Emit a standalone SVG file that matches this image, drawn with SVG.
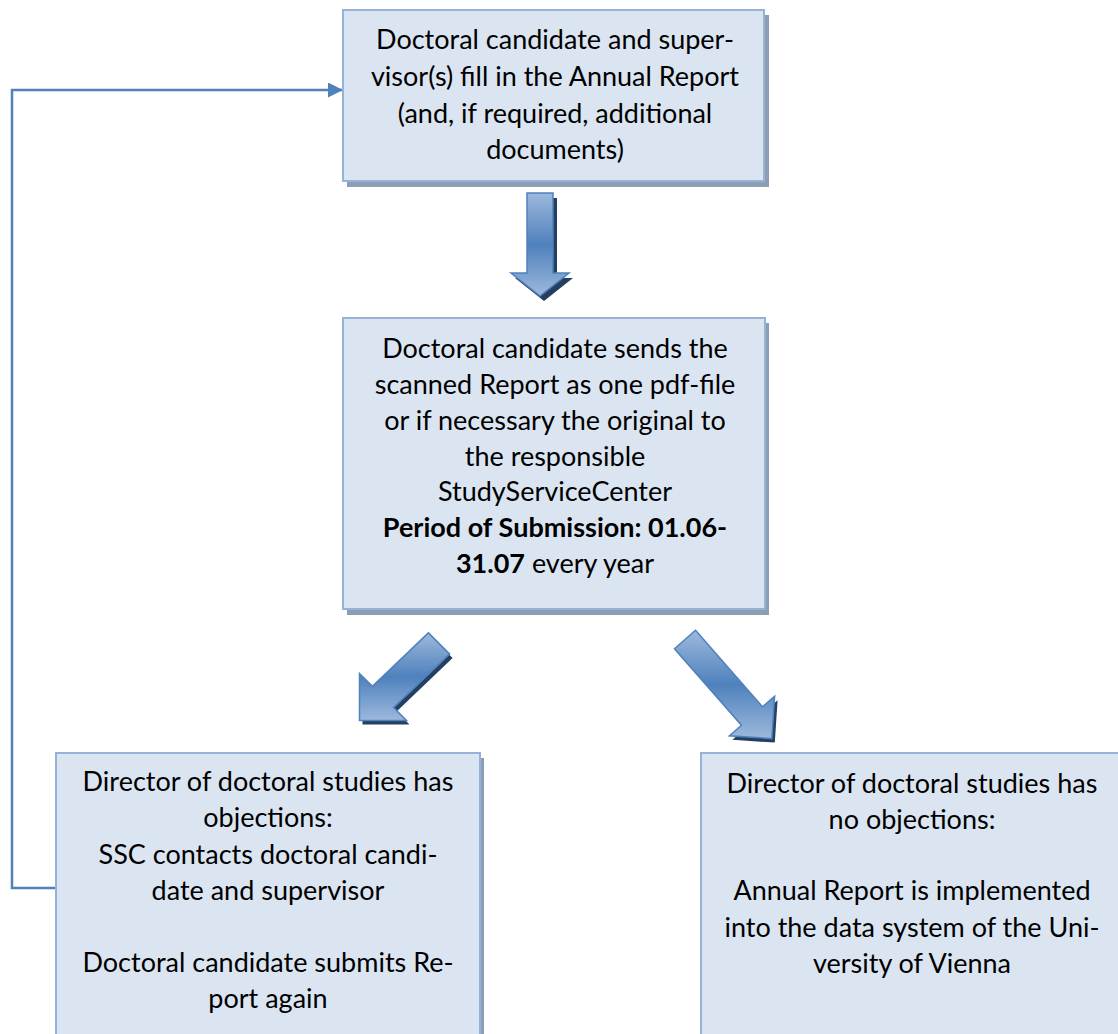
<svg xmlns="http://www.w3.org/2000/svg" width="1118" height="1034" viewBox="0 0 1118 1034">
<style>
.box{fill:#DBE5F1;stroke:#95B3D7;stroke-width:2}
.shadow{fill:#8D9DB3}
.t{font-family:Lato,"Liberation Sans",sans-serif;font-size:27px;fill:#000;text-anchor:middle}
.b{font-weight:bold}
.arrow{fill:url(#ag);stroke:#4F81BD;stroke-width:1.5;stroke-linejoin:miter}
.ash{fill:#243F60}
.conn{fill:none;stroke:#4F81BD;stroke-width:2.5}
</style>
<defs>
<linearGradient id="ag" x1="0" y1="0" x2="0" y2="1">
<stop offset="0" stop-color="#9DB9DC"/>
<stop offset="0.5" stop-color="#4F81BD"/>
<stop offset="1" stop-color="#9DB9DC"/>
</linearGradient>
<marker id="ah" markerWidth="15" markerHeight="15" refX="14" refY="7.5" orient="auto" markerUnits="userSpaceOnUse">
<path d="M0,0 L15,7.5 L0,15 Z" fill="#4F81BD"/>
</marker>
</defs>
<g id="connectors">
<path class="conn" d="M56,888 H12 V90 H342" marker-end="url(#ah)"/>
<g id="arrow-down">
<polygon class="ash" transform="translate(4,5)" points="527,193 553,193 553,273 569,273 540,296 511,273 527,273"/>
<polygon class="arrow" points="527,193 553,193 553,273 569,273 540,296 511,273 527,273"/>
</g>
<g id="arrow-left">
<polygon class="ash" transform="translate(3,4)" points="428.4,632.9 449.6,654.1 393.6,707.6 406.5,720.5 359.5,720.5 359.5,673.5 372.4,686.4"/>
<polygon class="arrow" points="428.4,632.9 449.6,654.1 393.6,707.6 406.5,720.5 359.5,720.5 359.5,673.5 372.4,686.4"/>
</g>
<g id="arrow-right">
<polygon class="ash" transform="translate(3,4)" points="695.5,630.3 762.5,706.8 774.6,696.2 771.8,738.6 729.4,735.8 741.5,725.2 674.5,648.7"/>
<polygon class="arrow" points="695.5,630.3 762.5,706.8 774.6,696.2 771.8,738.6 729.4,735.8 741.5,725.2 674.5,648.7"/>
</g>
</g>
<g id="node-fill-report">
<rect class="shadow" x="347" y="15" width="422" height="172"/>
<rect class="box" x="343" y="10" width="421" height="171"/>
<text class="t" x="555" y="49">Doctoral candidate and super-</text>
<text class="t" x="555" y="86">visor(s) fill in the Annual Report</text>
<text class="t" x="555" y="123">(and, if required, additional</text>
<text class="t" x="555" y="159">documents)</text>
</g>
<g id="node-send-report">
<rect class="shadow" x="347" y="323" width="422" height="292"/>
<rect class="box" x="343" y="318" width="422" height="291"/>
<text class="t" x="555" y="358">Doctoral candidate sends the</text>
<text class="t" x="555" y="394">scanned Report as one pdf-file</text>
<text class="t" x="555" y="430">or if necessary the original to</text>
<text class="t" x="555" y="466">the responsible</text>
<text class="t" x="555" y="501">StudyServiceCenter</text>
<text class="t b" x="555" y="537">Period of Submission: 01.06-</text>
<text class="t" x="555" y="573"><tspan class="b">31.07</tspan> every year</text>
</g>
<g id="node-objections">
<rect class="shadow" x="60" y="758" width="424" height="290"/>
<rect class="box" x="56" y="753" width="424" height="290"/>
<text class="t" x="268" y="791">Director of doctoral studies has</text>
<text class="t" x="268" y="827">objections:</text>
<text class="t" x="268" y="864">SSC contacts doctoral candi-</text>
<text class="t" x="268" y="900">date and supervisor</text>
<text class="t" x="268" y="972">Doctoral candidate submits Re-</text>
<text class="t" x="268" y="1008">port again</text>
</g>
<g id="node-no-objections">
<rect class="shadow" x="705" y="758" width="424" height="290"/>
<rect class="box" x="701" y="753" width="424" height="290"/>
<text class="t" x="912" y="793">Director of doctoral studies has</text>
<text class="t" x="912" y="829">no objections:</text>
<text class="t" x="912" y="900">Annual Report is implemented</text>
<text class="t" x="912" y="937">into the data system of the Uni-</text>
<text class="t" x="912" y="973">versity of Vienna</text>
</g>
</svg>
